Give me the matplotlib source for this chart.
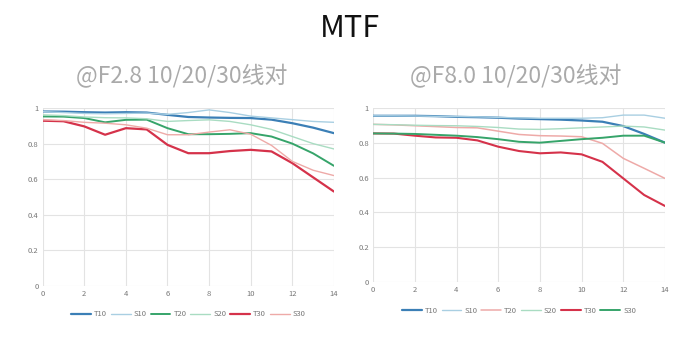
import matplotlib
matplotlib.use("Agg")
import matplotlib.pyplot as plt

plt.rcParams['font.family'] = ['Noto Sans CJK SC', 'DejaVu Sans']

x = list(range(15))
xticks = [0, 2, 4, 6, 8, 10, 12, 14]
yticks = [0, 0.2, 0.4, 0.6, 0.8, 1]
ytick_labels = ["0", "0.2", "0.4", "0.6", "0.8", "1"]
series_names = ["T10", "S10", "T20", "S20", "T30", "S30"]

# @F2.8
left_T10 = [0.981, 0.980, 0.977, 0.975, 0.977, 0.975, 0.962, 0.950, 0.947, 0.945, 0.944, 0.935, 0.915, 0.890, 0.859]
left_S10 = [0.980, 0.975, 0.970, 0.968, 0.970, 0.972, 0.965, 0.975, 0.990, 0.975, 0.955, 0.945, 0.935, 0.925, 0.920]
left_T20 = [0.953, 0.952, 0.944, 0.920, 0.934, 0.935, 0.887, 0.853, 0.853, 0.855, 0.859, 0.840, 0.800, 0.745, 0.675]
left_S20 = [0.962, 0.958, 0.950, 0.946, 0.945, 0.940, 0.925, 0.930, 0.934, 0.925, 0.906, 0.880, 0.840, 0.800, 0.770]
left_T30 = [0.929, 0.926, 0.897, 0.850, 0.887, 0.880, 0.793, 0.746, 0.746, 0.758, 0.765, 0.756, 0.690, 0.610, 0.530]
left_S30 = [0.934, 0.930, 0.920, 0.915, 0.906, 0.887, 0.850, 0.850, 0.865, 0.878, 0.853, 0.790, 0.700, 0.650, 0.620]

# @F8.0
right_T10 = [0.954, 0.954, 0.954, 0.952, 0.948, 0.946, 0.943, 0.938, 0.935, 0.932, 0.927, 0.920, 0.895, 0.850, 0.800]
right_S10 = [0.954, 0.954, 0.953, 0.951, 0.950, 0.948, 0.945, 0.942, 0.940, 0.940, 0.940, 0.943, 0.958, 0.958, 0.940]
right_T20 = [0.905, 0.902, 0.897, 0.892, 0.887, 0.885, 0.866, 0.847, 0.840, 0.838, 0.834, 0.796, 0.710, 0.653, 0.595]
right_S20 = [0.905, 0.903, 0.900, 0.898, 0.897, 0.893, 0.887, 0.878, 0.876, 0.880, 0.885, 0.890, 0.895, 0.890, 0.872]
right_T30 = [0.853, 0.852, 0.840, 0.830, 0.828, 0.813, 0.777, 0.752, 0.739, 0.744, 0.733, 0.690, 0.595, 0.500, 0.437]
right_S30 = [0.853, 0.852, 0.850, 0.845, 0.840, 0.832, 0.820, 0.805, 0.800, 0.810, 0.820, 0.828, 0.840, 0.840, 0.800]

blue, lblue = "#3b7fb6", "#a9cfe2"
green, lgreen = "#36a46a", "#a9dcc2"
red, pink = "#d5324a", "#eeaaa8"

left_colors = [blue, lblue, green, lgreen, red, pink]
right_colors = [blue, lblue, pink, lgreen, red, green]
left_widths = [1.6, 1.0, 1.4, 1.0, 1.6, 1.0]
right_widths = [1.6, 1.0, 1.1, 1.0, 1.5, 1.4]

fig = plt.figure(figsize=(7, 3.4), dpi=100)
fig.text(0.5, 0.915, "MTF", ha="center", va="center", fontsize=22,
         fontweight="medium", color="#111111")

panels = [
    ([0.061, 0.160, 0.416, 0.522], "@F2.8 10/20/30线对", 0.259,
     [left_T10, left_S10, left_T20, left_S20, left_T30, left_S30], left_colors, left_widths),
    ([0.533, 0.170, 0.417, 0.513], "@F8.0 10/20/30线对", 0.736,
     [right_T10, right_S10, right_T20, right_S20, right_T30, right_S30], right_colors, right_widths),
]

for rect, subtitle, cx, data, colors, widths in panels:
    ax = fig.add_axes(rect)
    for name, ys, c, lw in zip(series_names, data, colors, widths):
        ax.plot(x, ys, color=c, lw=lw, label=name, solid_capstyle="round")
    ax.set_xlim(0, 14)
    ax.set_ylim(0, 1)
    ax.set_xticks(xticks)
    ax.set_yticks(yticks)
    ax.set_yticklabels(ytick_labels)
    ax.grid(True, color="#e3e3e3", lw=0.8)
    ax.set_axisbelow(True)
    for s in ax.spines.values():
        s.set_visible(False)
    ax.tick_params(length=0, labelsize=5.5, colors="#777777", pad=3)
    ax.legend(loc="upper center", bbox_to_anchor=(0.5, -0.1), ncol=6, frameon=False,
              fontsize=5.5, handlelength=2.6, columnspacing=0.5, handletextpad=0.4,
              labelcolor="#777777")
    fig.text(cx, 0.775, subtitle, ha="center", va="center", fontsize=16.5, color="#aaaaaa")

fig.savefig("out.png", dpi=100)
